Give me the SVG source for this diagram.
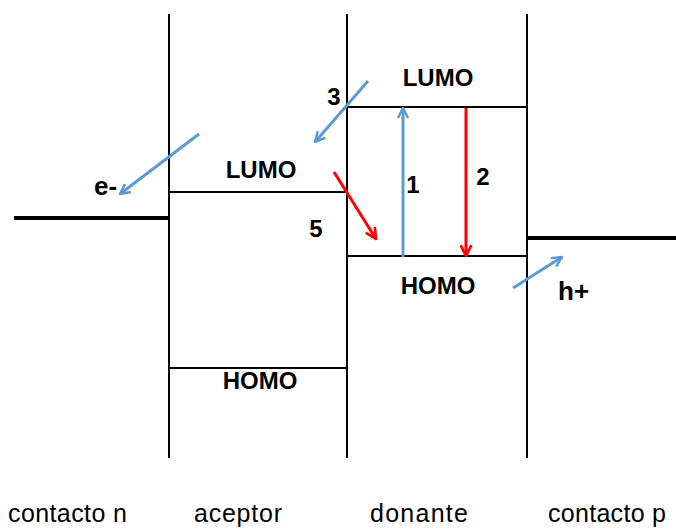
<svg xmlns="http://www.w3.org/2000/svg" width="676" height="529" viewBox="0 0 676 529">
  <style>
    .wall { stroke: #000; stroke-width: 2; fill: none; }
    .level { stroke: #000; stroke-width: 2; fill: none; }
    .contact { stroke: #000; stroke-width: 4; fill: none; }
    .lbl { font-family: "Liberation Sans", Arial, sans-serif; font-size: 24px; font-weight: bold; fill: #000; }
    .cap { font-family: "Liberation Sans", Arial, sans-serif; font-size: 25px; fill: #000; }
    .blue { stroke: #5b9bd5; stroke-width: 3; fill: none; marker-end: url(#headBlue); }
    .red { stroke: #ff0000; stroke-width: 3; fill: none; marker-end: url(#headRed); }
  </style>
  <defs>
    <marker id="headBlue" viewBox="0 0 12 12" refX="11" refY="6" markerWidth="12" markerHeight="12" markerUnits="userSpaceOnUse" orient="auto">
      <path d="M1,1 L11,6 L1,11" fill="none" stroke="#5b9bd5" stroke-width="2.5"/>
    </marker>
    <marker id="headRed" viewBox="0 0 12 12" refX="11" refY="6" markerWidth="13" markerHeight="13" markerUnits="userSpaceOnUse" orient="auto">
      <path d="M1,1 L11,6 L1,11" fill="none" stroke="#ff0000" stroke-width="2.5"/>
    </marker>
  </defs>
  <rect width="676" height="529" fill="#fff"/>

  <!-- n contact -->
  <g id="contacto-n">
    <line class="contact" x1="14" y1="218" x2="169" y2="218"/>
    <text class="cap" x="8" y="522" textLength="119">contacto n</text>
  </g>

  <!-- acceptor layer -->
  <g id="aceptor">
    <line class="wall" x1="169" y1="14" x2="169" y2="458"/>
    <line class="level" x1="169" y1="192" x2="347" y2="192"/>
    <line class="level" x1="169" y1="368" x2="347" y2="368"/>
    <text class="lbl" x="261" y="178" text-anchor="middle">LUMO</text>
    <text class="lbl" x="260" y="389" text-anchor="middle">HOMO</text>
    <text class="cap" x="194" y="522" textLength="88">aceptor</text>
  </g>

  <!-- donor layer -->
  <g id="donante">
    <line class="wall" x1="347" y1="14" x2="347" y2="458"/>
    <line class="level" x1="347" y1="107" x2="527" y2="107"/>
    <line class="level" x1="347" y1="256" x2="527" y2="256"/>
    <text class="lbl" x="438" y="86" text-anchor="middle">LUMO</text>
    <text class="lbl" x="438" y="294" text-anchor="middle">HOMO</text>
    <text class="cap" x="370" y="522" textLength="98">donante</text>
  </g>

  <!-- p contact -->
  <g id="contacto-p">
    <line class="wall" x1="527" y1="14" x2="527" y2="458"/>
    <line class="contact" x1="527" y1="238" x2="676" y2="238"/>
    <text class="cap" x="548" y="522" textLength="118">contacto p</text>
  </g>

  <!-- transitions and charge transfer -->
  <g id="connectors">
    <line class="blue" x1="403" y1="257" x2="403" y2="108"/>
    <line class="red" x1="466" y1="108" x2="466" y2="256"/>
    <line class="blue" x1="368" y1="81" x2="315" y2="142"/>
    <line class="red" x1="334" y1="172" x2="376" y2="239"/>
    <line class="blue" x1="199" y1="134" x2="120" y2="194"/>
    <line class="blue" x1="513" y1="288" x2="562" y2="257"/>
    <text class="lbl" x="413" y="193" text-anchor="middle">1</text>
    <text class="lbl" x="483" y="185" text-anchor="middle">2</text>
    <text class="lbl" x="334" y="105" text-anchor="middle">3</text>
    <text class="lbl" x="316" y="237" text-anchor="middle">5</text>
    <text class="lbl" x="94" y="195" style="font-size:26px">e-</text>
    <text class="lbl" x="558" y="300" style="font-size:26px">h+</text>
  </g>
</svg>
